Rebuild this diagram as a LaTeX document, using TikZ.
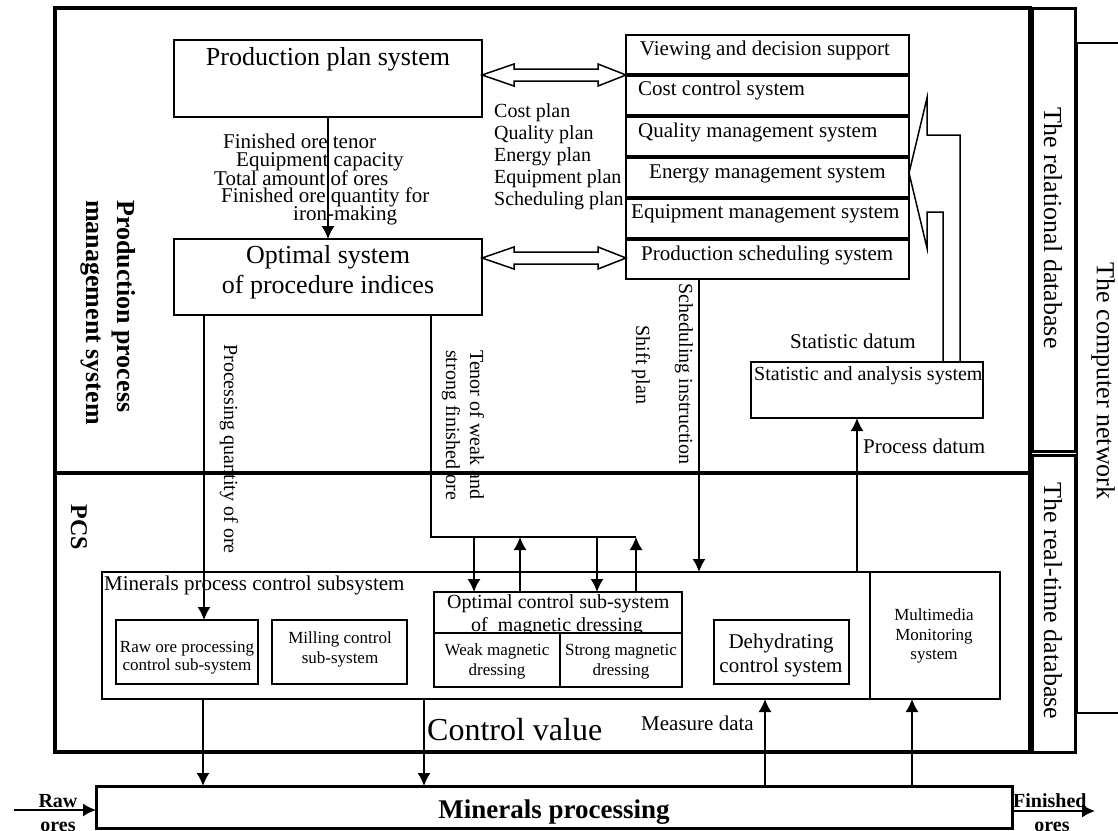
\documentclass[tikz,border=0pt]{standalone}
\usepackage{fontspec}
\setmainfont{Liberation Serif}
\usetikzlibrary{arrows.meta,calc}
\newcommand\fz[1]{\fontsize{#1}{#1}\selectfont}
\begin{document}
\begin{tikzpicture}[x=1pt,y=-1pt,
 box/.style={draw,inner sep=0pt,outer sep=0pt,anchor=north west,line width=2pt},
 t/.style={inner sep=0pt,anchor=base west},
 tc/.style={inner sep=0pt,anchor=base},
 rt/.style={inner sep=0pt,rotate=-90},
 ln/.style={line width=1.5pt},
 arr/.style={line width=1.5pt,-{Latex[length=13pt,width=13pt]}}]
\useasboundingbox (0,0) rectangle (1118,830);

% ---------- outer frames ----------
\node[box,line width=3.5pt,minimum width=975pt,minimum height=465pt] (pms) at (55,8) {};
\node[box,line width=3.5pt,minimum width=975pt,minimum height=279pt] (pcs) at (55,473) {};
\node[box,line width=3pt,minimum width=43pt,minimum height=443pt] (reldb) at (1032,8) {};
\node[box,line width=3pt,minimum width=43pt,minimum height=297pt] (rtdb) at (1032,455) {};
\node[box,line width=2.5pt,minimum width=60pt,minimum height=670pt] (net) at (1077,43) {};

\node[rt,font=\fz{26}] (lrel) at (1053,228) {The relational database};
\node[rt,font=\fz{26}] (lrt) at (1053,601) {The real-time database};
\node[rt,font=\fz{26}] (lnet) at (1103,381) {The computer network};

\node[rt,anchor=west,align=left,font=\fontsize{26}{31}\selectfont\bfseries] (lpms) at (108,200) {Production process\\management system};
\node[rt,font=\fz{24}\bfseries] (lpcs) at (79,527) {PCS};

% ---------- management boxes ----------
\node[box,minimum width=308pt,minimum height=77pt] (pps) at (174,40) {};
\node[tc,font=\fz{26}] (tpps) at (328,65) {Production plan system};
\node[box,minimum width=308pt,minimum height=76pt] (opt) at (174,239) {};
\node[tc,font=\fz{26}] (topt1) at (328,263) {Optimal system};
\node[tc,font=\fz{26}] (topt2) at (328,293) {of procedure indices};

\draw[arr] (pps.south) -- (opt.north);
\node[t,font=\fz{21}] (f1) at (223,148) {Finished ore tenor};
\node[t,font=\fz{21}] (f2) at (236,166) {Equipment capacity};
\node[t,font=\fz{21}] (f3) at (214,185) {Total amount of ores};
\node[t,font=\fz{21}] (f4) at (221,202) {Finished ore quantity for};
\node[t,font=\fz{21}] (f5) at (293,220) {iron-making};

% right system stack
\node[box,line width=1.8pt,minimum width=283pt,minimum height=39pt] (view) at (626,35) {};
\node[box,line width=1.8pt,minimum width=283pt,minimum height=39pt] (cost) at (626,76) {};
\node[box,line width=1.8pt,minimum width=283pt,minimum height=39pt] (qual) at (626,117) {};
\node[box,line width=1.8pt,minimum width=283pt,minimum height=39pt] (ener) at (626,158) {};
\node[box,line width=1.8pt,minimum width=283pt,minimum height=39pt] (equip) at (626,199) {};
\node[box,line width=1.8pt,minimum width=283pt,minimum height=39pt] (sched) at (626,240) {};
\node[tc,font=\fz{21}] (tview) at (765,55) {Viewing and decision support};
\node[t,font=\fz{21}] (tcost) at (638,95) {Cost control system};
\node[t,font=\fz{21}] (tqual) at (638,137) {Quality management system};
\node[t,font=\fz{21}] (tener) at (649,178) {Energy management system};
\node[t,font=\fz{21}] (tequip) at (631,218) {Equipment management system};
\node[t,font=\fz{21}] (tsched) at (641,260) {Production scheduling system};

\node[t,font=\fz{20}] (p1) at (494,117) {Cost plan};
\node[t,font=\fz{20}] (p2) at (494,139) {Quality plan};
\node[t,font=\fz{20}] (p3) at (494,161) {Energy plan};
\node[t,font=\fz{20}] (p4) at (494,183) {Equipment plan};
\node[t,font=\fz{20}] (p5) at (494,205) {Scheduling plan};

% double arrows
\coordinate (da1l) at (pps.east |- 0,75);
\coordinate (da1r) at (view.west |- 0,75);
\draw[ln] (da1l) -- ++(32,-11) -- ++(0,5) -- ($(da1r)+(-28,-6)$) -- ++(0,-5) -- (da1r)
  -- ++(-28,11) -- ++(0,-5) -- ($(da1l)+(32,6)$) -- ++(0,5) -- cycle;
\coordinate (da2l) at (opt.east |- 0,258);
\coordinate (da2r) at (sched.west |- 0,258);
\draw[ln] (da2l) -- ++(32,-11) -- ++(0,5) -- ($(da2r)+(-28,-6)$) -- ++(0,-5) -- (da2r)
  -- ++(-28,11) -- ++(0,-5) -- ($(da2l)+(32,6)$) -- ++(0,5) -- cycle;

% statistic
\node[box,line width=1.5pt,minimum width=232pt,minimum height=56pt] (stat) at (751,362) {};
\node[t,font=\fz{20}] (tstat) at (754,380) {Statistic and analysis system};
\node[t,font=\fz{21}] (lsd) at (790,348) {Statistic datum};
\node[t,font=\fz{21}] (lpd) at (863,453) {Process datum};

% big hollow arrow to the system stack
\draw[ln] (stat.north -| 943,0) -- (943,212) -- (927,212) -- (927,248) -- (ener.east |- 0,173)
  -- (927,98) -- (927,135) -- (960,135) -- (stat.north -| 960,0);

% ---------- PCS ----------
\node[box,line width=1.5pt,minimum width=898pt,minimum height=127pt] (sub) at (102,572) {};
\draw[ln] (sub.north -| 870,0) -- (sub.south -| 870,0);
\node[t,font=\fz{21}] (tsub) at (104,590) {Minerals process control subsystem};

\node[box,minimum width=142pt,minimum height=64pt] (raw) at (116,620) {};
\node[tc,font=\fz{17}] (traw1) at (187,652) {Raw ore processing};
\node[tc,font=\fz{17}] (traw2) at (187,670) {control sub-system};
\node[box,minimum width=135pt,minimum height=64pt] (mill) at (272,620) {};
\node[tc,font=\fz{17}] (tmill1) at (340,643) {Milling control};
\node[tc,font=\fz{17}] (tmill2) at (340,663) {sub-system};

\node[box,line width=1.8pt,minimum width=248pt,minimum height=41pt] (optc) at (434,592) {};
\node[t,font=\fz{20}] (toptc1) at (447,608) {Optimal control sub-system};
\node[t,font=\fz{20}] (toptc2) at (471,631) {of~~magnetic dressing};
\node[box,line width=1.8pt,fill=white,minimum width=126pt,minimum height=54pt] (weak) at (434,633) {};
\node[box,line width=1.8pt,fill=white,minimum width=122pt,minimum height=54pt] (strong) at (560,633) {};
\node[tc,font=\fz{17}] (tweak1) at (497,655) {Weak magnetic};
\node[tc,font=\fz{17}] (tweak2) at (497,675) {dressing};
\node[tc,font=\fz{17}] (tstr1) at (621,655) {Strong magnetic};
\node[tc,font=\fz{17}] (tstr2) at (621,675) {dressing};

\node[box,minimum width=135pt,minimum height=64pt] (dehy) at (714,620) {};
\node[tc,font=\fz{21}] (tdehy1) at (781,648) {Dehydrating};
\node[tc,font=\fz{21}] (tdehy2) at (781,672) {control system};

\node[tc,font=\fz{17}] (tmm1) at (934,620) {Multimedia};
\node[tc,font=\fz{17}] (tmm2) at (934,640) {Monitoring};
\node[tc,font=\fz{17}] (tmm3) at (934,659) {system};

% vertical labels
\node[rt,font=\fz{20}] (lpq) at (229,449) {Processing quantity of ore};
\node[rt,anchor=west,align=left,font=\fontsize{20}{24}\selectfont] (lten) at (463,350) {Tenor of weak and\\strong finished ore};
\node[rt,font=\fz{20}] (lsi) at (684,374) {Scheduling instruction};
\node[rt,font=\fz{20}] (lsp) at (641,365) {Shift plan};

% connectors
\draw[arr] (opt.south -| 204,0) -- (raw.north -| 204,0);
\coordinate (j1) at (474,537);
\coordinate (j2) at (520,537);
\coordinate (j3) at (597,537);
\coordinate (j4) at (636,537);
\draw[ln] (opt.south -| 431,0) |- (j4);
\draw[arr] (j1) -- (j1 |- optc.north);
\draw[arr] (j2 |- optc.north) -- (j2);
\draw[arr] (j3) -- (j3 |- optc.north);
\draw[arr] (j4 |- optc.north) -- (j4);
\draw[arr] (sched.south -| 699,0) -- (sub.north -| 699,0);
\draw[arr] (sub.north -| 857,0) -- (stat.south -| 857,0);

% ---------- minerals processing ----------
\node[box,line width=3pt,minimum width=916pt,minimum height=42pt] (mp) at (96,786) {};
\node[tc,font=\fz{27}\bfseries] (tmp) at (554,818) {Minerals processing};

\draw[arr] (sub.south -| 203,0) -- (mp.north -| 203,0);
\draw[arr] (sub.south -| 424,0) -- (mp.north -| 424,0);
\draw[arr] (mp.north -| 765,0) -- (sub.south -| 765,0);
\draw[arr] (mp.north -| 912,0) -- (sub.south -| 912,0);
\node[t,font=\fz{32}] (lcv) at (427,740) {Control value};
\node[t,font=\fz{21}] (lmd) at (641,730) {Measure data};

\coordinate (rawin) at (14,810);
\draw[arr] (rawin) -- (mp.west |- rawin);
\coordinate (finout) at (1095,811);
\draw[arr] (mp.east |- finout) -- (finout);
\node[tc,font=\fz{20}\bfseries] (lraw1) at (58,807) {Raw};
\node[tc,font=\fz{20}\bfseries] (lraw2) at (58,831) {ores};
\node[t,font=\fz{20}\bfseries] (lfin1) at (1013,807) {Finished};
\node[tc,font=\fz{20}\bfseries] (lfin2) at (1052,831) {ores};
\end{tikzpicture}
\end{document}
